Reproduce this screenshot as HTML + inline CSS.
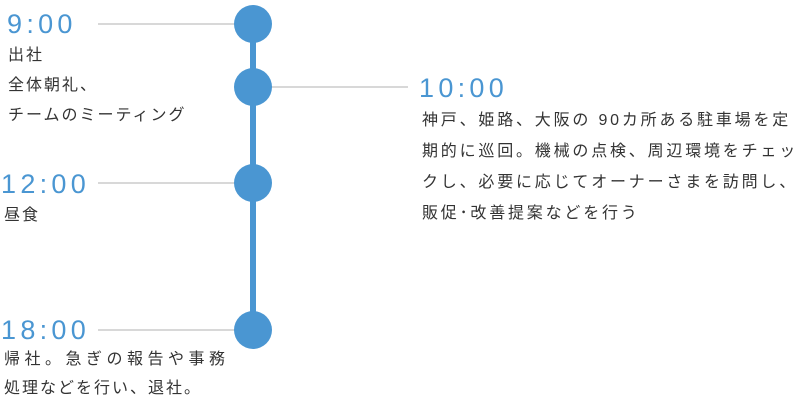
<!DOCTYPE html>
<html><head><meta charset="utf-8"><style>
body{margin:0;width:794px;height:400px;background:#fff;position:relative;overflow:hidden;font-family:"Liberation Sans","Noto Sans CJK JP",sans-serif;}
.t{position:absolute;color:#4a96d2;font-size:27px;letter-spacing:4.3px;line-height:30px;white-space:nowrap;}
.p{position:absolute;color:#333;font-size:16px;letter-spacing:2px;white-space:nowrap;}
.h{position:absolute;height:2px;background:#d8d8d8;}
.c{position:absolute;width:38px;height:38px;border-radius:50%;background:#4a96d2;}
</style></head><body>
<div style="position:absolute;left:250px;top:24px;width:6px;height:306px;background:#4a96d2"></div>
<div class="h" style="left:98px;top:23px;width:140px"></div>
<div class="h" style="left:270px;top:86px;width:138px"></div>
<div class="h" style="left:98px;top:182px;width:140px"></div>
<div class="h" style="left:98px;top:329px;width:140px"></div>
<div class="c" style="left:234px;top:5px"></div>
<div class="c" style="left:234px;top:68px"></div>
<div class="c" style="left:234px;top:164px"></div>
<div class="c" style="left:234px;top:311px"></div>
<div class="t" style="left:7px;top:9px">9:00</div>
<div class="p" style="left:8px;top:41px;line-height:30px">出社<br>全体朝礼、<br>チームのミーティング</div>
<div class="t" style="left:419px;top:73px">10:00</div>
<div class="p" style="left:422px;top:105px;line-height:31px;letter-spacing:2.8px">神戸、姫路、大阪の 90カ所ある駐車場を定<br>期的に巡回。機械の点検、周辺環境をチェッ<br>クし、必要に応じてオーナーさまを訪問し、<br>販促･改善提案などを行う</div>
<div class="t" style="left:1px;top:169px">12:00</div>
<div class="p" style="left:4px;top:201px;line-height:30px">昼食</div>
<div class="t" style="left:1px;top:315px">18:00</div>
<div class="p" style="left:4px;top:345px;line-height:30px;letter-spacing:4.5px">帰社。急ぎの報告や事務</div>
<div class="p" style="left:4px;top:374px;line-height:30px;letter-spacing:2px">処理などを行い、退社。</div>
</body></html>
